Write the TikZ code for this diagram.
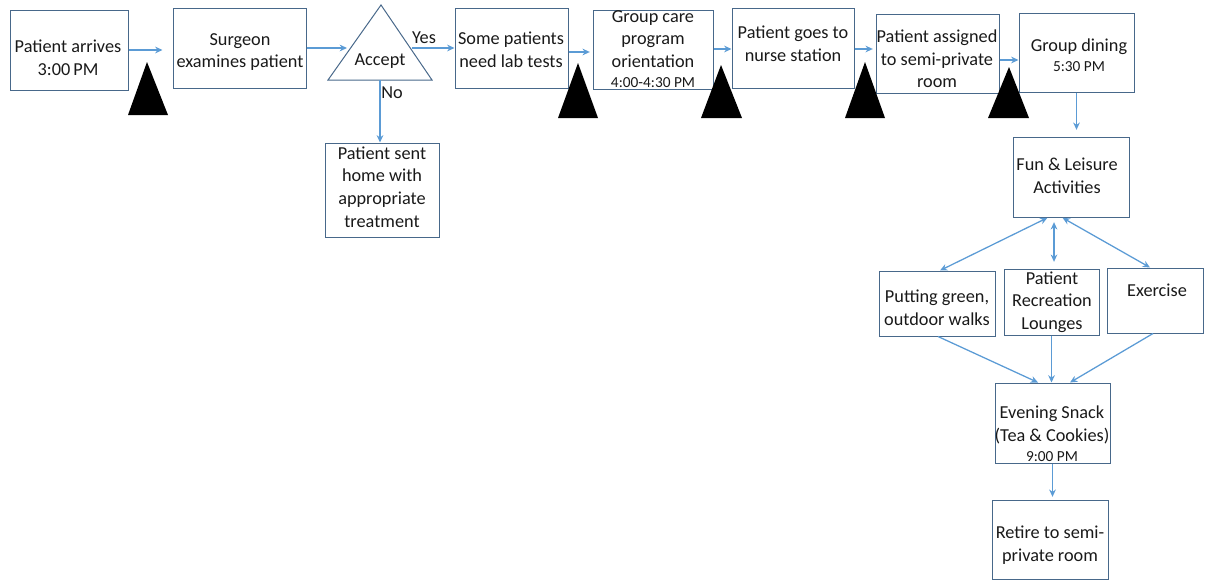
\documentclass[tikz,border=0pt]{standalone}
\usepackage{fontspec}
\setmainfont{Carlito}
\usetikzlibrary{arrows.meta}
\definecolor{boxline}{RGB}{72,104,138}
\definecolor{flow}{RGB}{91,155,213}
\begin{document}
\begin{tikzpicture}[x=0.75pt,y=-0.75pt,
  box/.style={draw=boxline, line width=0.75pt, inner sep=0pt},
  wh/.style 2 args={minimum width=#1*0.75pt, minimum height=#2*0.75pt},
  txt/.style={align=center, font=\fontsize{13.7}{17}\selectfont, inner sep=0pt, text=black!90},
  tip/.style={-{Stealth[length=5.5pt,width=5pt]}},
  flowarrow/.style={draw=flow, line width=0.95pt, tip},
  twoway/.style={draw=flow, line width=0.95pt, {Stealth[length=5.5pt,width=5pt]}-{Stealth[length=5.5pt,width=5pt]}},
  waitmark/.style={fill=black}]
\useasboundingbox (0,0) rectangle (1209,582);

% ---- top row of steps
\node[box, wh={118}{80}] (arr) at (69,50) {};
\node[txt] (arrT) at (68,58) {Patient arrives\\3:00\,PM};

\node[box, wh={133}{80}] (surg) at (239.5,48) {};
\node[txt] (surgT) at (240,52) {Surgeon\\examines patient};

% decision triangle
\draw[draw=boxline, line width=0.75pt] (328,80) -- (381,5) -- (432,80) -- cycle;
\node[txt] (acc) at (380,61) {Accept};
\coordinate (accL) at (347,48);
\coordinate (accR) at (412,48);
\coordinate (accB) at (380,80);
\node[txt] (yes) at (424,38) {Yes};
\node[txt] (no) at (392,93) {No};

\node[box, wh={114}{94}] (home) at (382,190) {};
\node[txt] (homeT) at (382,187) {Patient sent\\home with\\appropriate\\treatment};

\node[box, wh={113}{80}] (lab) at (511.5,48) {};
\node[txt] (labT) at (511,50) {Some patients\\need lab tests};

\node[box, wh={120}{79}] (care) at (653,49.5) {};
\node[txt] (careT) at (653,49) {Group care\\program\\orientation\\[-2pt]{\fontsize{11.5}{14}\selectfont 4:00-4:30 PM}};

\node[box, wh={122}{80}] (nurse) at (793,48) {};
\node[txt] (nurseT) at (793,44) {Patient goes to\\nurse station};

\node[box, wh={123}{79}] (asg) at (937.5,53.5) {};
\node[txt] (asgT) at (937,59) {Patient assigned\\to semi-private\\room};

\node[box, wh={115}{79}] (dine) at (1076.5,52.5) {};
\node[txt] (dineT) at (1079,55) {Group dining\\[-2pt]{\fontsize{11.5}{14}\selectfont 5:30 PM}};

% ---- activities column
\node[box, wh={116}{80}] (fun) at (1071,177) {};
\node[txt] (funT) at (1067,176) {Fun \& Leisure\\Activities};

\node[box, wh={116}{65}] (put) at (937,303.5) {};
\node[txt] (putT) at (937,308) {Putting green,\\outdoor walks};

\node[box, wh={95}{66}] (rec) at (1051.5,302) {};
\node[txt] (recT) at (1052,302) {Patient\\Recreation\\Lounges};

\node[box, wh={96}{65}] (exe) at (1155,300.5) {};
\node[txt] (exeT) at (1157,290) {Exercise};

\node[box, wh={115}{80}] (snack) at (1052.5,423) {};
\node[txt] (snackT) at (1052,434) {Evening Snack\\(Tea \& Cookies)\\[-2pt]{\fontsize{11.5}{14}\selectfont 9:00 PM}};

\node[box, wh={116}{79}] (ret) at (1050,539.5) {};
\node[txt] (retT) at (1050,545) {Retire to semi-\\private room};

% ---- waiting marks
\fill[waitmark] (128,115) -- (147,62) -- (168,115) -- cycle;
\fill[waitmark] (558,118) -- (578,63) -- (598,118) -- cycle;
\fill[waitmark] (701,118) -- (721,65) -- (742,118) -- cycle;
\fill[waitmark] (845,118) -- (865,62) -- (885,118) -- cycle;
\fill[waitmark] (988,118) -- (1009,67) -- (1029,118) -- cycle;

% ---- connectors
\draw[flowarrow, shorten >=7.5pt] (arr.east |- 0,50) -- (surg.west |- 0,50);
\draw[flowarrow] (surg.east |- accL) -- (accL);
\draw[flowarrow] (accR) -- (lab.west |- accR);
\draw[flowarrow] (accB) -- (home.north -| accB);
\draw[flowarrow, shorten >=2pt] (lab.east |- 0,52) -- (care.west |- 0,52);
\draw[flowarrow] (care.east |- 0,49) -- (nurse.west |- 0,49);
\draw[flowarrow, shorten >=2pt] (nurse.east |- 0,49) -- (asg.west |- 0,49);
\draw[flowarrow] (asg.east |- 0,60) -- (dine.west |- 0,60);
\draw[flowarrow, shorten >=5pt] (dine.south) -- (dine.south |- fun.north);

\draw[twoway, shorten <=0.5pt] (fun.south -| 1048,0) -- (put.north -| 940,0);
\draw[twoway, shorten <=3.5pt, shorten >=5pt] (fun.south -| 1054,0) -- (rec.north -| 1054,0);
\draw[twoway, shorten <=0.5pt] (fun.south -| 1062,0) -- (exe.north -| 1150,0);

\draw[flowarrow] (put.south -| 938,0) -- (snack.north -| 1038,0);
\draw[flowarrow] (rec.south) -- (rec.south |- snack.north);
\draw[flowarrow] (exe.south -| 1153,0) -- (snack.north -| 1070,0);
\draw[flowarrow, shorten >=2pt] (snack.south) -- (snack.south |- ret.north);
\end{tikzpicture}
\end{document}
